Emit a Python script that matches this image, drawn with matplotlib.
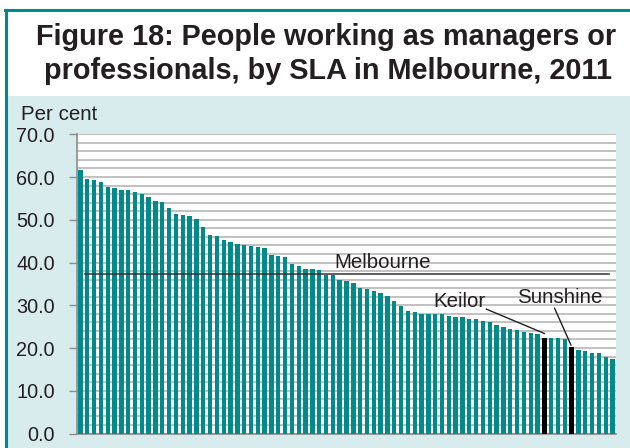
import matplotlib.pyplot as plt
from matplotlib.patches import Rectangle
from matplotlib.lines import Line2D

plt.rcParams['font.family'] = ['Liberation Sans', 'DejaVu Sans']

# Share of employed people working as managers or professionals, one value per SLA,
# sorted from highest to lowest
values = [61.7, 59.6, 59.3, 58.9, 57.7, 57.5, 57.0, 57.0, 56.4, 56.1,
          55.4, 54.3, 54.2, 52.8, 51.4, 51.2, 50.9, 50.3, 48.2, 46.4,
          46.2, 45.3, 44.8, 44.3, 44.0, 43.9, 43.6, 43.4, 41.7, 41.6,
          41.4, 39.7, 39.3, 38.6, 38.5, 38.3, 37.1, 37.0, 35.8, 35.7,
          35.3, 34.0, 33.9, 33.3, 32.9, 32.2, 31.1, 29.9, 28.7, 28.5,
          28.0, 28.0, 27.9, 27.9, 27.5, 27.3, 27.2, 26.7, 26.7, 26.4,
          26.0, 25.5, 24.8, 24.5, 24.2, 23.8, 23.5, 23.2, 22.3, 22.3,
          22.3, 22.2, 20.2, 19.5, 19.2, 18.8, 18.8, 18.0, 17.4]
highlight = {68: 'Keilor', 72: 'Sunshine'}
melbourne_avg = 37.2
yticks = [0, 10, 20, 30, 40, 50, 60, 70]

teal = '#008a8a'
panel = '#d8eced'
ink = '#231f20'
fs = 14.8

fig = plt.figure(figsize=(6.3, 4.48), dpi=100)
fig.patch.set_facecolor('white')

# light panel behind the chart and the teal frame lines
fig.add_artist(Rectangle((5 / 630, 0), 1, 1 - 96 / 448, transform=fig.transFigure,
                         facecolor=panel, edgecolor='none', zorder=0))
fig.add_artist(Line2D([5 / 630, 1], [1 - 10.5 / 448] * 2, transform=fig.transFigure,
                      color=teal, lw=2.2))
fig.add_artist(Line2D([5.5 / 630] * 2, [0, 1 - 10.5 / 448], transform=fig.transFigure,
                      color=teal, lw=2.2))

fig.text(326 / 630, 1 - 37 / 448, 'Figure 18: People working as managers or',
         ha='center', va='center', fontsize=20.8, fontweight='bold', color=ink)
fig.text(328 / 630, 1 - 71 / 448, 'professionals, by SLA in Melbourne, 2011',
         ha='center', va='center', fontsize=20.8, fontweight='bold', color=ink)

ax = fig.add_axes([77 / 630, 1 - 433.5 / 448, 539 / 630, 299.2 / 448])
ax.set_facecolor('white')

x = list(range(len(values)))
colors = ['black' if i in highlight else teal for i in x]
ax.bar(x, values, width=0.64, color=colors, zorder=3)

ax.set_xlim(-0.5, len(values) - 0.5)
ax.set_ylim(0, 70)
ax.set_yticks(yticks)
ax.set_yticklabels([f'{v:.1f}' for v in yticks])
ax.set_yticks(range(0, 71, 2), minor=True)
ax.grid(axis='y', which='both', color='#bcbcbc', lw=1.3, zorder=1)
ax.set_xticks([])
ax.tick_params(axis='y', which='major', length=6, width=1, color='#8c8c8c',
               labelsize=14.3, pad=10, labelcolor=ink)
ax.tick_params(axis='y', which='minor', length=0)
for s in ['top', 'right']:
    ax.spines[s].set_visible(False)
for s in ['left', 'bottom']:
    ax.spines[s].set_color('#8c8c8c')
    ax.spines[s].set_linewidth(1.2)

# Melbourne average line
ax.plot([0.6, 77.5], [melbourne_avg, melbourne_avg], color='#333333', lw=1.1, zorder=4)
ax.text(37.2, melbourne_avg + 0.5, 'Melbourne', fontsize=fs, color=ink,
        ha='left', va='bottom', zorder=5)

# labels for the highlighted SLAs, with leader lines
ax.text(55.5, 30.8, 'Keilor', fontsize=fs, color=ink, ha='center', va='center', zorder=5)
ax.plot([59.5, 68], [29.1, values[68] + 1.1], color=ink, lw=1, zorder=5)
ax.text(70.2, 31.9, 'Sunshine', fontsize=fs, color=ink, ha='center', va='center', zorder=5)
ax.plot([69.5, 71.9], [29.3, values[72] + 0.5], color=ink, lw=1, zorder=5)

fig.text(21 / 630, 1 - 114 / 448, 'Per cent', fontsize=fs, color=ink,
         ha='left', va='center')

fig.savefig('out.png', dpi=100, facecolor=fig.get_facecolor())
